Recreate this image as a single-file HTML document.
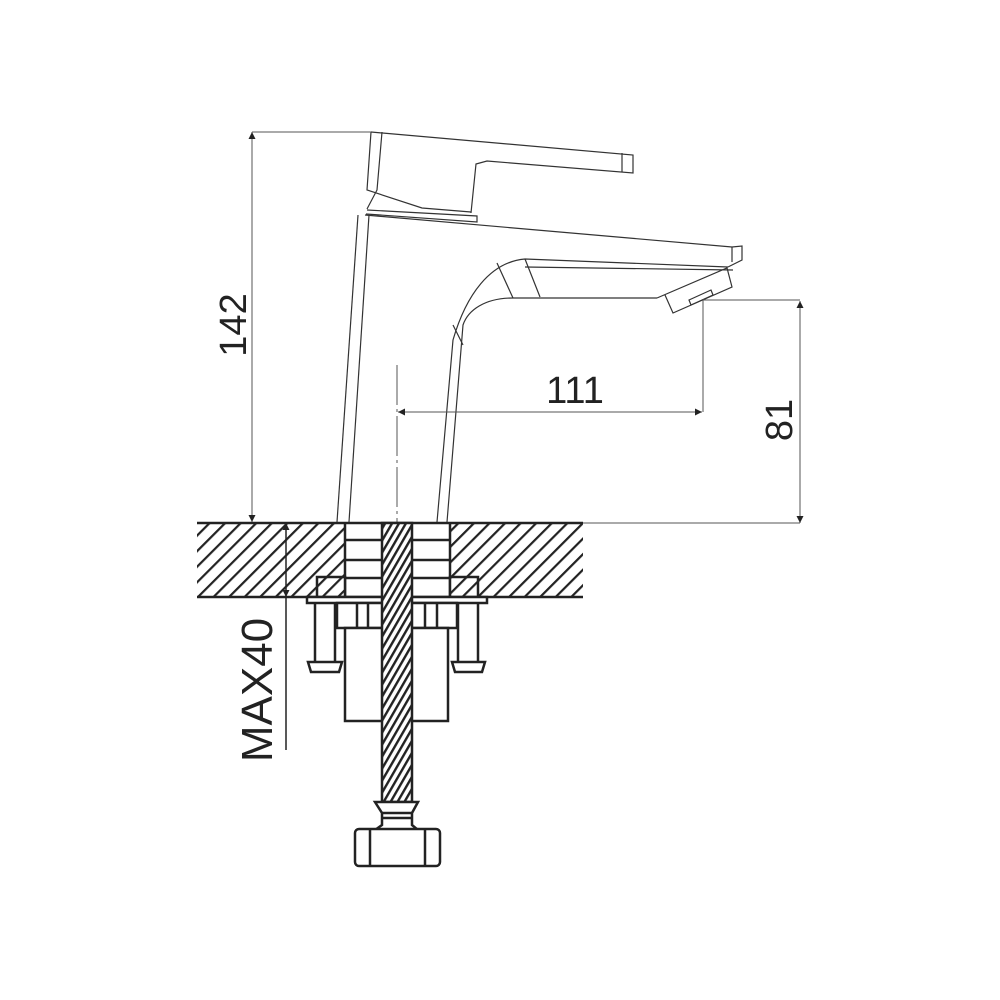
<!DOCTYPE html>
<html><head><meta charset="utf-8"><style>html,body{margin:0;padding:0;background:#fff}svg{display:block}</style></head>
<body>
<svg width="1000" height="1000" viewBox="0 0 1000 1000" xmlns="http://www.w3.org/2000/svg">
<defs>
<pattern id="h" patternUnits="userSpaceOnUse" width="11" height="11" patternTransform="rotate(45)">
<rect width="11" height="11" fill="#fff"/><rect x="0" y="0" width="2.2" height="11" fill="#222"/>
</pattern>
<pattern id="t" patternUnits="userSpaceOnUse" width="6" height="6" patternTransform="rotate(-60)">
<rect width="6" height="6" fill="#fff"/><rect x="0" y="0" width="6" height="2.4" fill="#222"/>
</pattern>
<marker id="a" viewBox="0 0 10 10" refX="10" refY="5" markerWidth="7" markerHeight="22" markerUnits="userSpaceOnUse" orient="auto"><path d="M0,0 L10,5 L0,10z" fill="#222"/></marker>
</defs>
<g fill="none" stroke="#333" stroke-width="1.2">
<!-- handle -->
<path d="M371,132 L633,155 L633,173 L487,161 L476,164 L471,213"/>
<path d="M622,153 L622,172"/>
<path d="M371,132 L367,190 L422,208 L471,212"/>
<path d="M382,132 L377,190 L367,209"/>
<path d="M367,210 L477,216 L477,222 L366,214"/>
<!-- body -->
<path d="M365,215 L732,247 L742,246 L742,260 L728,267"/>
<path d="M732,247 L732,262"/>
<path d="M358,215 L337,522"/>
<path d="M369,215 L349,522"/>
<path d="M728,267 L525,259 C490,262 466,295 453,340 L437,522"/>
<path d="M733,270 L525,267"/>
<path d="M497,263 L513,298"/>
<path d="M525,259 L540,297"/>
<path d="M657,298 L513,298 C485,298 468,310 463,325 L447,522"/>
<path d="M453,325 L463,345"/>
<path d="M657,298 L727,268 L732,287 L673,313 L665,295"/>
<path d="M689,300 L711,290 L713,295 L691,305z"/>
</g>
<!-- dimensions -->
<g stroke="#555" stroke-width="1" fill="none">
<path d="M252,132 L371,132"/>
<path d="M252,155 L252,522" marker-end="url(#a)"/>
<path d="M252,200 L252,132" marker-end="url(#a)"/>
<path d="M703,300 L800,300"/>
<path d="M703,300 L703,412"/>
<path d="M580,523 L800,523"/>
<path d="M800,400 L800,301" marker-end="url(#a)"/>
<path d="M800,400 L800,523" marker-end="url(#a)"/>
<path d="M550,412 L702,412" marker-end="url(#a)"/>
<path d="M550,412 L398,412" marker-end="url(#a)"/>
<path d="M397,365 L397,525" stroke-dasharray="40,4,3,4"/>
</g>
<g font-family="Liberation Sans, sans-serif" font-size="38" fill="#222">
<text x="575" y="403" text-anchor="middle">111</text>
<text transform="translate(246,325) rotate(-90)" text-anchor="middle">142</text>
<text transform="translate(792,420) rotate(-90)" text-anchor="middle">81</text>
<text transform="translate(272,690) rotate(-90)" text-anchor="middle" font-size="44">MAX40</text>
</g>
<!-- countertop -->
<rect x="197" y="523" width="386" height="74" fill="url(#h)"/>
<rect x="345" y="523" width="105" height="74" fill="#fff"/>
<g stroke="#222" stroke-width="2.5" fill="none">
<path d="M197,523 L583,523"/>
<path d="M197,597 L583,597"/>
<path d="M345,523 L345,597 M450,523 L450,597"/>
<path d="M345,540 L450,540 M345,560 L450,560 M345,578 L450,578"/>
<rect x="317" y="577" width="28" height="20" fill="url(#h)"/>
<rect x="450" y="577" width="28" height="20" fill="url(#h)"/>
<rect x="307" y="597" width="180" height="6" fill="#fff"/>
<path d="M315,603 L315,662 M335,603 L335,662"/>
<path d="M458,603 L458,662 M478,603 L478,662"/>
<path d="M308,662 L342,662 L339,672 L311,672z" fill="#fff"/>
<path d="M452,662 L485,662 L482,672 L455,672z" fill="#fff"/>
<rect x="337" y="603" width="120" height="25" fill="#fff"/>
<path d="M357,603 L357,628 M368,603 L368,628 M425,603 L425,628 M437,603 L437,628"/>
<rect x="345" y="628" width="103" height="93" fill="#fff"/>
<rect x="382" y="523" width="30" height="279" fill="url(#t)"/>
<path d="M375,802 L418,802 L412,813 L412,825 L418,830 L375,830 L382,825 L382,813z" fill="#fff"/>
<path d="M382,813 L412,813 M382,818 L412,818"/>
<rect x="355" y="829" width="85" height="37" rx="4" fill="#fff"/>
<path d="M370,829 L370,866 M425,829 L425,866"/>
</g>
<g stroke="#222" stroke-width="1.5" fill="none">
<path d="M286,597 L286,750"/>
<path d="M286,560 L286,523" marker-end="url(#a)"/>
<path d="M286,560 L286,597" marker-end="url(#a)"/>
</g>
</svg>
</body></html>
